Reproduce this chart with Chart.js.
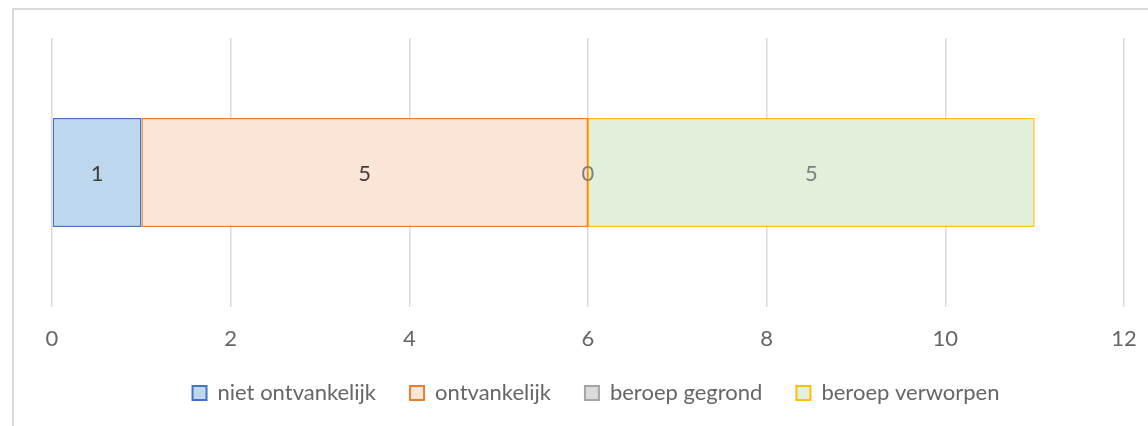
<!DOCTYPE html>
<html>
<head>
<meta charset="utf-8">
<script src="https://cdn.jsdelivr.net/npm/chart.js@4/dist/chart.umd.min.js"></script>
<style>
  html, body { margin: 0; padding: 0; background: #ffffff; }
  #wrap { width: 1148px; height: 426px; position: relative; }
</style>
</head>
<body>
<div id="wrap"><canvas id="c" width="1148" height="426"></canvas></div>
<script>
const categories = [""];
const seriesNames = ["niet ontvankelijk", "ontvankelijk", "beroep gegrond", "beroep verworpen"];
const nietOntvankelijk = [1];
const ontvankelijk = [5];
const beroepGegrond = [0];
const beroepVerworpen = [5];
const xTicks = [0, 2, 4, 6, 8, 10, 12];

const FONT = "Lato";
const FSIZE = 22;

const frame = {
  id: 'frame',
  beforeDraw(chart) {
    const ctx = chart.ctx;
    ctx.save();
    ctx.strokeStyle = '#D9D9D9';
    ctx.lineWidth = 2;
    ctx.beginPath();
    ctx.moveTo(13, 426);
    ctx.lineTo(13, 9);
    ctx.lineTo(1148, 9);
    ctx.stroke();
    ctx.restore();
  }
};

const legendShift = {
  id: 'legendShift',
  afterLayout(chart) {
    if (chart.legend) { chart.legend.left += 8; chart.legend.right += 8; }
  }
};

const labelColors = ['#404040', '#404040', '#7F7F7F', '#7F7F7F'];
const valueLabels = {
  id: 'valueLabels',
  afterDatasetsDraw(chart) {
    const ctx = chart.ctx;
    ctx.save();
    ctx.font = FSIZE + 'px ' + FONT;
    ctx.textAlign = 'center';
    ctx.textBaseline = 'middle';
    chart.data.datasets.forEach((ds, i) => {
      const meta = chart.getDatasetMeta(i);
      meta.data.forEach((el, j) => {
        const p = el.getCenterPoint();
        ctx.fillStyle = labelColors[i];
        ctx.fillText(String(ds.data[j]), p.x, p.y + 1);
      });
    });
    ctx.restore();
  }
};

new Chart(document.getElementById('c'), {
  type: 'bar',
  data: {
    labels: categories,
    datasets: [
      { label: seriesNames[0], data: nietOntvankelijk, backgroundColor: '#BDD7EE', borderColor: '#4472C4' },
      { label: seriesNames[1], data: ontvankelijk, backgroundColor: '#FBE5D6', borderColor: '#ED7D31' },
      { label: seriesNames[2], data: beroepGegrond, backgroundColor: '#DBDBDB', borderColor: '#A5A5A5' },
      { label: seriesNames[3], data: beroepVerworpen, backgroundColor: '#E2EFDA', borderColor: '#FFC000' }
    ].map(d => Object.assign(d, { borderWidth: 1.5, borderSkipped: false, categoryPercentage: 1, barPercentage: 0.405 }))
  },
  options: {
    indexAxis: 'y',
    responsive: false,
    animation: false,
    devicePixelRatio: 1,
    layout: { padding: { left: 52, right: 24, top: 38, bottom: 12 } },
    scales: {
      x: {
        stacked: true,
        min: 0, max: 12,
        afterBuildTicks(scale) { scale.ticks = xTicks.map(v => ({ value: v })); },
        afterFit(scale) { scale.height = 41; scale.paddingLeft = 0; scale.paddingRight = 0; },
        grid: { color: '#D9D9D9', lineWidth: 1.5, drawTicks: false },
        border: { display: false },
        ticks: { color: '#666666', font: { family: FONT, size: FSIZE }, padding: 19 }
      },
      y: { stacked: true, display: false }
    },
    plugins: {
      legend: {
        position: 'bottom',
        labels: {
          color: '#666666',
          font: { family: FONT, size: FSIZE },
          boxWidth: 14, boxHeight: 14,
          padding: 34,
          generateLabels(chart) {
            return chart.data.datasets.map((ds, i) => ({
              text: ds.label, fillStyle: ds.backgroundColor, strokeStyle: ds.borderColor,
              lineWidth: 2, hidden: false, datasetIndex: i, fontColor: '#666666'
            }));
          }
        }
      },
      tooltip: { enabled: false }
    }
  },
  plugins: [frame, legendShift, valueLabels]
});
</script>
</body>
</html>
